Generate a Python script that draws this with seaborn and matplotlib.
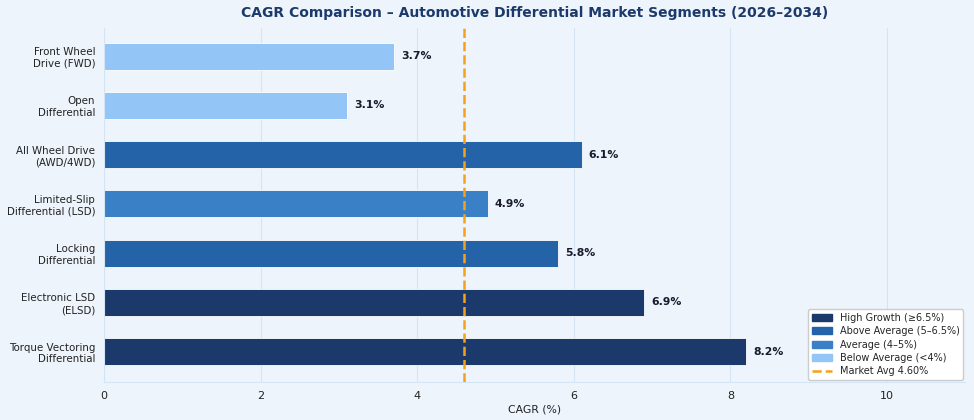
import matplotlib.pyplot as plt
import matplotlib.patches as mpatches
import matplotlib.lines as mlines
import pandas as pd
import seaborn as sns

segments = ['Front Wheel\nDrive (FWD)', 'Open\nDifferential', 'All Wheel Drive\n(AWD/4WD)',
            'Limited-Slip\nDifferential (LSD)', 'Locking\nDifferential', 'Electronic LSD\n(ELSD)',
            'Torque Vectoring\nDifferential']
cagr = [3.7, 3.1, 6.1, 4.9, 5.8, 6.9, 8.2]
market_avg = 4.60

tier_names = ['High Growth (≥6.5%)', 'Above Average (5–6.5%)', 'Average (4–5%)', 'Below Average (<4%)']
tier_colors = ['#1b3a6b', '#2563a8', '#3a80c6', '#93c6f7']


def tier(v):
    if v >= 6.5:
        return tier_names[0]
    if v >= 5:
        return tier_names[1]
    if v >= 4:
        return tier_names[2]
    return tier_names[3]


df = pd.DataFrame({'segment': segments, 'cagr': cagr})
df['tier'] = df['cagr'].apply(tier)

bg = '#eef4fb'
sns.set_style('white')
fig, ax = plt.subplots(figsize=(9.74, 4.2), dpi=100)
fig.patch.set_facecolor(bg)
ax.set_facecolor(bg)

sns.barplot(data=df, y='segment', x='cagr', hue='tier', palette=dict(zip(tier_names, tier_colors)),
            dodge=False, legend=False, width=0.55, saturation=1, edgecolor='white', linewidth=0.6, ax=ax)

for i, v in enumerate(cagr):
    ax.text(v + 0.09, i, f'{v}%', va='center', ha='left', fontsize=7.8, fontweight='bold', color='#1a1a2e')

ax.axvline(market_avg, color='#f5a11c', linestyle='--', linewidth=1.8, zorder=3)

ax.set_xlim(0, 11)
ax.set_ylim(6.62, -0.57)
ax.set_xticks([0, 2, 4, 6, 8, 10])
ax.grid(axis='x', color='#d3e5f5', linewidth=0.8)
ax.set_axisbelow(True)
for s in ['top', 'right']:
    ax.spines[s].set_visible(False)
for s in ['left', 'bottom']:
    ax.spines[s].set_color('#d3e5f5')
ax.tick_params(axis='both', labelsize=7.4, colors='#222222', length=3)
ax.tick_params(axis='x', labelsize=8)
ax.set_ylabel('')
ax.set_xlabel('CAGR (%)', fontsize=7.8, color='#222222', labelpad=2)
ax.set_title('CAGR Comparison – Automotive Differential Market Segments (2026–2034)',
             fontsize=10, fontweight='bold', color='#1b3a6b', pad=8)

handles = [mpatches.Patch(color=c, label=n) for n, c in zip(tier_names, tier_colors)]
handles.append(mlines.Line2D([], [], color='#f5a11c', linestyle='--', linewidth=1.8,
                             label=f'Market Avg {market_avg:.2f}%'))
ax.legend(handles=handles, loc='lower right', fontsize=7.0, frameon=True, facecolor='white',
          edgecolor='#cccccc', framealpha=1, borderaxespad=0.2, labelspacing=0.35)

plt.subplots_adjust(left=0.107, right=0.991, top=0.933, bottom=0.09)
plt.savefig('out.png', dpi=100, facecolor=bg)
